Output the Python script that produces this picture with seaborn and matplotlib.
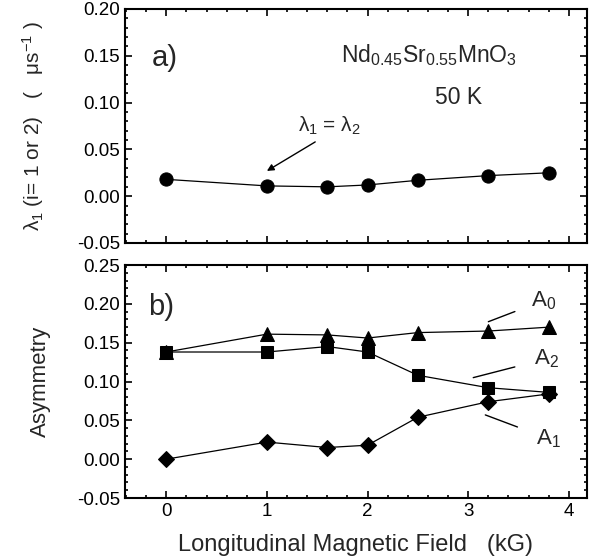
import matplotlib
matplotlib.use("Agg")
import matplotlib.pyplot as plt
import seaborn as sns
import pandas as pd
from matplotlib.ticker import MultipleLocator, FormatStrFormatter

# data
field = [0, 1, 1.6, 2, 2.5, 3.2, 3.8]
lam = [0.018, 0.011, 0.010, 0.012, 0.017, 0.022, 0.025]
a0 = [0.138, 0.161, 0.160, 0.156, 0.163, 0.165, 0.170]
a2 = [0.138, 0.138, 0.145, 0.138, 0.108, 0.092, 0.086]
a1 = [0.000, 0.022, 0.015, 0.018, 0.054, 0.074, 0.084]

sns.set_theme(style="ticks")
plt.rcParams['font.family'] = ['Liberation Sans', 'DejaVu Sans']
plt.rcParams['mathtext.fontset'] = 'custom'
plt.rcParams['mathtext.rm'] = 'Liberation Sans'
plt.rcParams['mathtext.it'] = 'Liberation Sans'

fig = plt.figure(figsize=(6, 5.59), dpi=100)
ax1 = fig.add_axes([0.2083, 0.5653, 0.770, 0.4186])
ax2 = fig.add_axes([0.2083, 0.1091, 0.770, 0.4168])

df_top = pd.DataFrame({'field': field, 'lam': lam})
df_bot = pd.DataFrame({'field': field, 'A0': a0, 'A2': a2, 'A1': a1})

sns.lineplot(data=df_top, x='field', y='lam', ax=ax1, color='black', lw=0.9,
             marker='o', markersize=9.5, markeredgecolor='black')
sns.lineplot(data=df_bot, x='field', y='A0', ax=ax2, color='black', lw=0.9,
             marker='^', markersize=10, markeredgecolor='black')
sns.lineplot(data=df_bot, x='field', y='A2', ax=ax2, color='black', lw=0.9,
             marker='s', markersize=8, markeredgecolor='black')
sns.lineplot(data=df_bot, x='field', y='A1', ax=ax2, color='black', lw=0.9,
             marker='D', markersize=8, markeredgecolor='black')

for ax in (ax1, ax2):
    ax.set_xlim(-0.41, 4.18)
    ax.xaxis.set_major_locator(MultipleLocator(1))
    ax.xaxis.set_minor_locator(MultipleLocator(0.2))
    ax.yaxis.set_major_locator(MultipleLocator(0.05))
    ax.yaxis.set_minor_locator(MultipleLocator(0.01))
    ax.yaxis.set_major_formatter(FormatStrFormatter('%.2f'))
    ax.tick_params(which='both', direction='in', top=True, right=True,
                   labelsize=13.5, colors='black', width=1.2)
    ax.tick_params(which='major', length=5)
    ax.tick_params(which='minor', length=2.5)
    for s in ax.spines.values():
        s.set_linewidth(1.5)
        s.set_color('black')

ax1.set_ylim(-0.05, 0.20)
ax2.set_ylim(-0.05, 0.25)
ax1.tick_params(labelbottom=False)
ax1.set_xlabel('')
ax1.set_ylabel(r'$\lambda_1$ (i= 1 or 2)   (   $\mu$s$^{-1}$ )', fontsize=15, labelpad=22)
ax2.set_xlabel('Longitudinal Magnetic Field   (kG)', fontsize=17, labelpad=10)
ax2.set_ylabel('Asymmetry', fontsize=16, labelpad=19)
ax2.xaxis.set_major_formatter(FormatStrFormatter('%d'))

ax1.text(0.058, 0.756, 'a)', transform=ax1.transAxes, fontsize=21)
ax2.text(0.050, 0.785, 'b)', transform=ax2.transAxes, fontsize=21)
ax1.text(0.848, 0.773, r'Nd$_{0.45}$Sr$_{0.55}$MnO$_3$', transform=ax1.transAxes,
         fontsize=16.5, ha='right')
ax1.text(0.723, 0.594, '50 K', transform=ax1.transAxes, fontsize=16.5, ha='center')

ax1.text(1.62, 0.069, r'$\lambda_1$ = $\lambda_2$', fontsize=15, ha='center')
ax1.annotate('', xy=(1.0, 0.027), xytext=(1.48, 0.058),
             arrowprops=dict(arrowstyle='-|>', color='black', lw=1, shrinkA=0,
                             shrinkB=0, mutation_scale=10))

ax2.annotate(r'A$_0$', xy=(3.2, 0.177), xytext=(3.75, 0.197), fontsize=16, ha='center',
             arrowprops=dict(arrowstyle='-', color='black', lw=1, shrinkA=10, shrinkB=0))
ax2.annotate(r'A$_2$', xy=(3.05, 0.105), xytext=(3.78, 0.122), fontsize=16, ha='center',
             arrowprops=dict(arrowstyle='-', color='black', lw=1, shrinkA=12, shrinkB=0))
ax2.annotate(r'A$_1$', xy=(3.17, 0.057), xytext=(3.8, 0.019), fontsize=16, ha='center',
             arrowprops=dict(arrowstyle='-', color='black', lw=1, shrinkA=12, shrinkB=0))

fig.savefig('out.png', dpi=100)
